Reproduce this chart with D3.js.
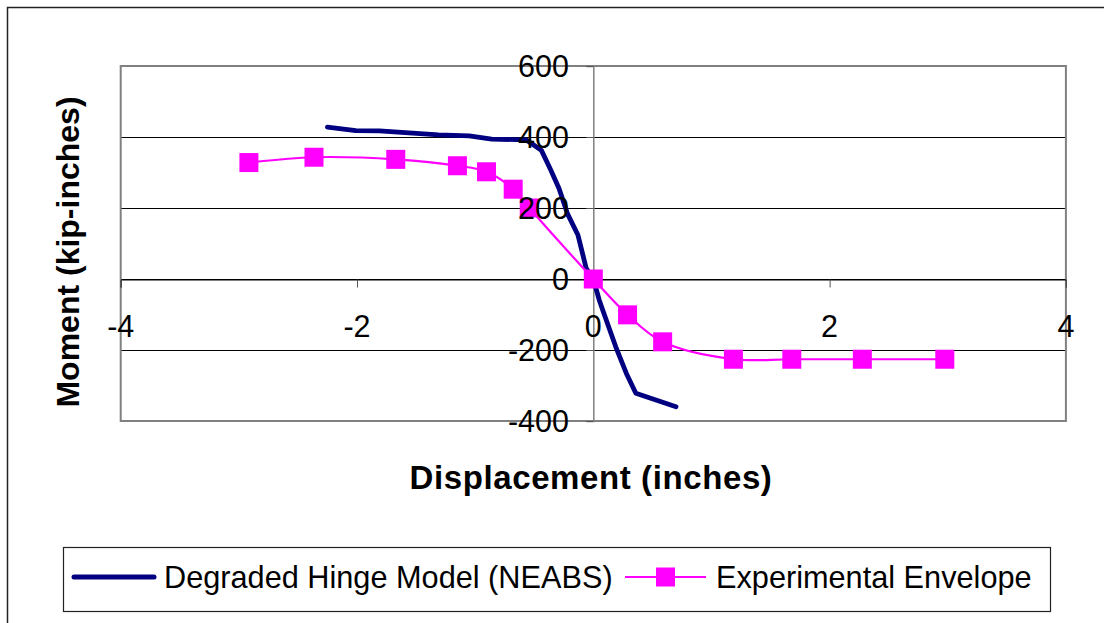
<!DOCTYPE html>
<html>
<head>
<meta charset="utf-8">
<script src="https://cdn.jsdelivr.net/npm/d3@7"></script>
<style>
  html, body { margin: 0; padding: 0; background: #fff; }
  svg { display: block; font-family: "Liberation Sans", Arial, sans-serif; }
</style>
</head>
<body>
<svg id="chart" width="1104" height="623"></svg>
<script>
// Degraded hinge model (NEABS) moment-displacement curve
const modelX = [-2.25, -2.01, -1.81, -1.31, -1.05, -0.86, -0.57, -0.44, -0.36, -0.29, -0.22, -0.13, -0.06, 0, 0.05, 0.09, 0.19, 0.28, 0.36, 0.70];
const modelY = [428, 418, 417, 406, 403, 394, 392, 363, 307, 255, 185, 124, 30, 0, -59, -97, -191, -266, -322, -360];

// Experimental envelope points
const expX = [-2.915, -2.364, -1.672, -1.15, -0.904, -0.678, -0.542, 0, 0.29, 0.587, 1.186, 1.68, 2.277, 2.975];
const expY = [328, 343, 337, 319, 302, 253, 200, 0, -101, -177, -226, -226, -226, -226];

const xTicks = [-4, -2, 0, 2, 4];
const yTicks = [-400, -200, 0, 200, 400, 600];

const seriesNames = ["Degraded Hinge Model (NEABS)", "Experimental Envelope"];
const xTitle = "Displacement (inches)";
const yTitle = "Moment (kip-inches)";

const svg = d3.select("#chart");
const plot = { left: 120.7, right: 1065.9, top: 66, bottom: 421 };

const x = d3.scaleLinear().domain([-4, 4]).range([plot.left, plot.right]);
const y = d3.scaleLinear().domain([-400, 600]).range([plot.bottom, plot.top]);

// outer chart frame
svg.append("path")
  .attr("d", "M7.5,630 V7.5 H1110")
  .attr("fill", "none").attr("stroke", "#222").attr("stroke-width", 1.5);

// horizontal gridlines
svg.append("g").selectAll("line").data(yTicks).join("line")
  .attr("x1", plot.left).attr("x2", plot.right)
  .attr("y1", d => Math.round(y(d)) + 0.5).attr("y2", d => Math.round(y(d)) + 0.5)
  .attr("stroke", "#000").attr("stroke-width", 1);

// plot area border
svg.append("rect")
  .attr("x", plot.left).attr("y", plot.top)
  .attr("width", plot.right - plot.left).attr("height", plot.bottom - plot.top)
  .attr("fill", "none").attr("stroke", "#808080").attr("stroke-width", 2);

// vertical axis through x = 0
const yAxis = d3.axisLeft(y).tickValues(yTicks).tickSize(7).tickFormat("");
const gy = svg.append("g").attr("transform", `translate(${x(0)},0)`).call(yAxis);
gy.select(".domain").attr("stroke", "#808080").attr("stroke-width", 1.5);
gy.selectAll(".tick line").attr("stroke", "#555");

// horizontal axis through y = 0
const xAxis = d3.axisBottom(x).tickValues(xTicks).tickSize(8).tickFormat("");
const gx = svg.append("g").attr("transform", `translate(0,${Math.round(y(0)) + 0.5})`).call(xAxis);
gx.select(".domain").attr("stroke", "#000").attr("stroke-width", 1);
gx.selectAll(".tick line").attr("stroke", "#555");

// model curve
const modelData = modelX.map((v, i) => [v, modelY[i]]);
svg.append("path")
  .datum(modelData)
  .attr("d", d3.line().x(d => x(d[0])).y(d => y(d[1])))
  .attr("fill", "none").attr("stroke", "#000080").attr("stroke-width", 4.8)
  .attr("stroke-linejoin", "round").attr("stroke-linecap", "round");

// experimental envelope (smoothed line + square markers)
const expData = expX.map((v, i) => [v, expY[i]]);
svg.append("path")
  .datum(expData)
  .attr("d", d3.line().curve(d3.curveCatmullRom.alpha(0.5)).x(d => x(d[0])).y(d => y(d[1])))
  .attr("fill", "none").attr("stroke", "#FF00FF").attr("stroke-width", 2.2);

const ms = 19;
svg.append("g").selectAll("rect").data(expData).join("rect")
  .attr("x", d => x(d[0]) - ms / 2).attr("y", d => y(d[1]) - ms / 2)
  .attr("width", ms).attr("height", ms)
  .attr("fill", "#FF00FF");

// tick labels
svg.append("g").selectAll("text").data(yTicks).join("text")
  .attr("x", 569).attr("y", d => y(d) + 11)
  .attr("text-anchor", "end").attr("font-size", 30.5).attr("fill", "#000")
  .text(d => d);

svg.append("g").selectAll("text").data(xTicks).join("text")
  .attr("x", d => x(d)).attr("y", 337)
  .attr("text-anchor", "middle").attr("font-size", 30.5).attr("fill", "#000")
  .text(d => d);

// axis titles
svg.append("text")
  .attr("x", 591).attr("y", 489)
  .attr("text-anchor", "middle").attr("font-size", 33).attr("font-weight", "bold")
  .attr("letter-spacing", 0.6)
  .text(xTitle);

svg.append("text")
  .attr("transform", "translate(79,252) rotate(-90)")
  .attr("text-anchor", "middle").attr("font-size", 32).attr("font-weight", "bold")
  .text(yTitle);

// legend
const lg = svg.append("g");
lg.append("rect")
  .attr("x", 63.5).attr("y", 547.5).attr("width", 987).attr("height", 64)
  .attr("fill", "#fff").attr("stroke", "#222").attr("stroke-width", 1.2);
lg.append("line")
  .attr("x1", 74).attr("x2", 154).attr("y1", 577).attr("y2", 577)
  .attr("stroke", "#000080").attr("stroke-width", 5).attr("stroke-linecap", "round");
lg.append("text")
  .attr("x", 164).attr("y", 588).attr("font-size", 30.7).text(seriesNames[0]);
lg.append("line")
  .attr("x1", 625).attr("x2", 706).attr("y1", 577).attr("y2", 577)
  .attr("stroke", "#FF00FF").attr("stroke-width", 2.2);
lg.append("rect")
  .attr("x", 665.5 - ms / 2).attr("y", 577 - ms / 2).attr("width", ms).attr("height", ms)
  .attr("fill", "#FF00FF");
lg.append("text")
  .attr("x", 716).attr("y", 588).attr("font-size", 30.7).text(seriesNames[1]);
</script>
</body>
</html>
